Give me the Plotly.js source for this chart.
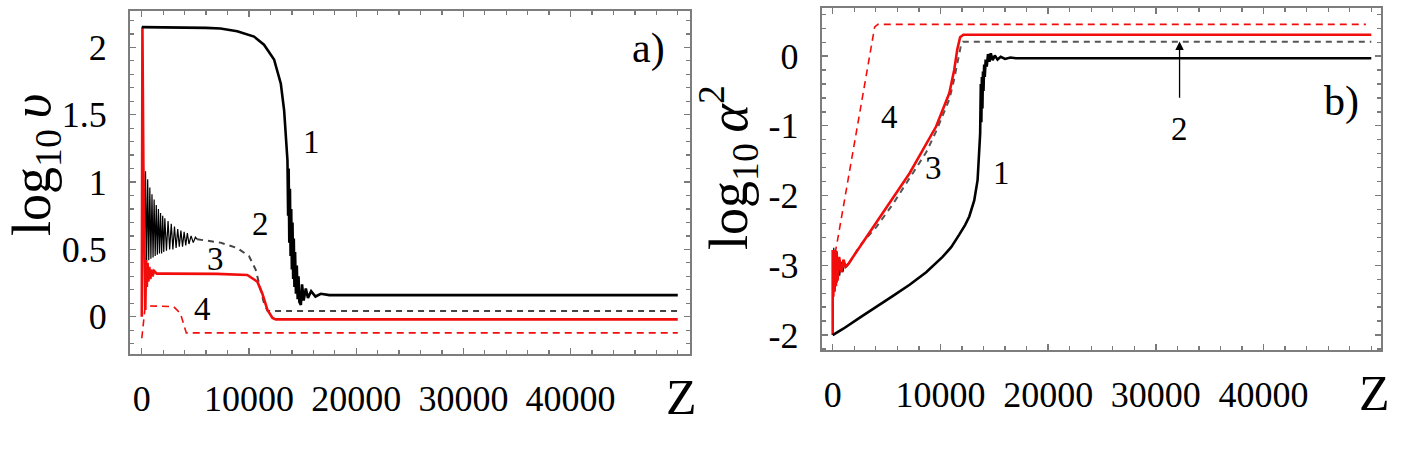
<!DOCTYPE html>
<html><head><meta charset="utf-8">
<script src="https://cdn.plot.ly/plotly-3.0.1.min.js"></script>
<style>html,body{margin:0;padding:0;background:#fff}#chart{width:1419px;height:456px}</style>
</head><body><div id="chart"></div>
<script>
// ---------- Panel a) log10 v vs Z ----------
const a1_z = [0, 500, 2000, 4000, 6000, 7340, 8900, 10470, 11400, 12340, 12970, 13280, 13590, 13650, 13700, 13760, 13820, 13880, 13940, 14000, 14060, 14120, 14180, 14240, 14300, 14380, 14460, 14540, 14620, 14700, 14840, 14950, 15100, 15300, 15500, 15800, 16200, 16700, 17500, 20000, 30000, 40000, 50000];
const a1_v = [2.15, 2.15, 2.15, 2.148, 2.145, 2.14, 2.12, 2.08, 2.02, 1.91, 1.73, 1.53, 1.16, 0.75, 1.10, 0.55, 0.95, 0.45, 0.80, 0.35, 0.70, 0.28, 0.58, 0.22, 0.48, 0.17, 0.38, 0.13, 0.30, 0.11, 0.087, 0.24, 0.12, 0.21, 0.14, 0.19, 0.15, 0.17, 0.16, 0.16, 0.16, 0.16, 0.16];

const a2osc_z = [150, 250, 350, 450, 550, 650, 750, 850, 950, 1050, 1150, 1250, 1350, 1450, 1550, 1650, 1750, 1850, 1950, 2050, 2150, 2300, 2450, 2600, 2750, 2900, 3050, 3200, 3350, 3500, 3650, 3800, 3950, 4100, 4250, 4400, 4600, 4800, 5000, 5160];
const a2osc_v = [1.15, 0.40, 1.08, 0.41, 1.02, 0.42, 0.96, 0.43, 0.91, 0.44, 0.87, 0.45, 0.83, 0.46, 0.80, 0.47, 0.77, 0.47, 0.75, 0.48, 0.73, 0.49, 0.71, 0.50, 0.69, 0.50, 0.67, 0.51, 0.65, 0.52, 0.64, 0.52, 0.63, 0.53, 0.62, 0.54, 0.60, 0.55, 0.59, 0.575];
const a2_z = [5160, 7340, 8900, 10000, 10620, 11090, 11400, 11720, 12000, 20000, 30000, 40000, 50000];
const a2_v = [0.575, 0.55, 0.51, 0.45, 0.35, 0.20, 0.10, 0.045, 0.042, 0.042, 0.042, 0.042, 0.042];

const a3_z = [0, 60, 150, 250, 330, 400, 470, 540, 620, 700, 800, 900, 1000, 1150, 1400, 2000, 4000, 7000, 9840, 10780, 11250, 11720, 12190, 12500, 20000, 30000, 40000, 50000];
const a3_v = [0.0, 2.15, 1.10, 0.50, 0.05, 0.42, 0.22, 0.40, 0.26, 0.37, 0.28, 0.35, 0.30, 0.34, 0.32, 0.32, 0.32, 0.318, 0.31, 0.26, 0.17, 0.05, -0.01, -0.02, -0.02, -0.02, -0.02, -0.02];

const a4_z = [0, 300, 600, 1500, 2970, 3600, 3900, 4150, 50000];
const a4_v = [-0.16, 0.064, 0.08, 0.08, 0.075, 0.025, -0.05, -0.12, -0.12];

// ---------- Panel b) log10 alpha^2 vs Z ----------
const b1_z = [0, 985, 2520, 4060, 5600, 7140, 8680, 10200, 11000, 11750, 12300, 12680, 13140, 13450, 13600, 13690, 13750, 13800, 13850, 13900, 13950, 14000, 14060, 14120, 14200, 14300, 14420, 14550, 14680, 14850, 15050, 15300, 15600, 16000, 16500, 17000, 20000, 30000, 40000, 50000];
const b1_a = [-4.0, -3.91, -3.75, -3.60, -3.44, -3.28, -3.10, -2.88, -2.74, -2.56, -2.42, -2.30, -2.07, -1.78, -1.35, -1.11, -0.40, -0.95, -0.30, -0.75, -0.22, -0.50, -0.12, -0.30, -0.05, -0.15, 0.03, -0.08, 0.04, -0.06, 0.01, -0.05, -0.01, -0.04, -0.02, -0.03, -0.03, -0.03, -0.03, -0.03];

const b2osc_z = [0, 100, 200, 300, 400, 500, 650, 800, 950, 1100, 1300, 1500];
const b2osc_a = [-3.40, -2.75, -3.30, -2.80, -3.25, -2.90, -3.15, -2.95, -3.10, -2.98, -3.02, -2.98];
const b2_z = [1500, 2520, 4060, 5600, 7140, 8680, 9600, 10200, 10830, 11250, 11600, 11900, 12100, 20000, 30000, 40000, 50000];
const b2_a = [-2.98, -2.72, -2.45, -2.12, -1.75, -1.38, -1.08, -0.85, -0.62, -0.35, -0.05, 0.15, 0.206, 0.206, 0.206, 0.206, 0.206];

const b3_z = [0, 0, 60, 120, 180, 240, 300, 370, 450, 600, 800, 1000, 1200, 1450, 4060, 7140, 9600, 10200, 10830, 11280, 11570, 11830, 12130, 20000, 30000, 40000, 50000];
const b3_a = [-4.0, -2.78, -3.45, -2.78, -3.38, -2.78, -3.30, -2.80, -3.22, -2.88, -3.10, -2.92, -3.02, -2.98, -2.38, -1.68, -1.01, -0.77, -0.53, -0.20, 0.10, 0.27, 0.306, 0.306, 0.306, 0.306, 0.306];

const b4_z = [0, 370, 3900, 4200, 49500];
const b4_a = [-3.0, -2.71, 0.42, 0.455, 0.455];

const xTicks = [0, 10000, 20000, 30000, 40000];
const xTickText = ['0', '10000', '20000', '30000', '40000'];
const aTicks = [0, 0.5, 1, 1.5, 2];
const aTickText = ['0', '0.5', '1', '1.5', '2'];
const bTicks = [-4, -3, -2, -1, 0];
const bTickText = ['-2', '-3', '-2', '-1', '0'];

const RED = '#f20d0d';
const serif = 'Liberation Serif';

function tr(x, y, xa, ya, color, width, dash) {
  return {x: x, y: y, xaxis: xa, yaxis: ya, type: 'scatter', mode: 'lines',
    line: {color: color, width: width, dash: dash || 'solid'}, hoverinfo: 'skip', showlegend: false};
}

const data = [
  tr(a2osc_z, a2osc_v, 'x', 'y', '#000', 1.2),
  tr(a2_z, a2_v, 'x', 'y', '#444', 2, '6px,5px'),
  tr(a4_z, a4_v, 'x', 'y', RED, 1.6, '7px,5px'),
  tr(a3_z, a3_v, 'x', 'y', RED, 2.6),
  tr(a1_z, a1_v, 'x', 'y', '#000', 2.6),
  tr(b4_z, b4_a, 'x2', 'y2', RED, 1.6, '7px,5px'),
  tr(b2osc_z, b2osc_a, 'x2', 'y2', '#000', 1.2),
  tr(b2_z, b2_a, 'x2', 'y2', '#555', 2, '6px,5px'),
  tr(b3_z, b3_a, 'x2', 'y2', RED, 2.6),
  tr(b1_z, b1_a, 'x2', 'y2', '#000', 2.6)
];

const minorX = {ticks: 'inside', ticklen: 4, tickcolor: '#7a7a7a', dtick: 2000, tick0: 0};
const axBase = {
  showgrid: false, zeroline: false, showline: true, linecolor: '#7d7d7d', linewidth: 2,
  mirror: 'ticks', ticks: 'inside', ticklen: 6, tickwidth: 1.3, tickcolor: '#7a7a7a',
  tickfont: {family: serif, size: 36, color: '#000'}, tickmode: 'array'
};

function ann(xr, yr, x, y, text, size, extra) {
  return Object.assign({xref: xr, yref: yr, x: x, y: y, text: text, showarrow: false,
    xanchor: 'center', yanchor: 'middle', font: {family: serif, size: size, color: '#000'}}, extra || {});
}

const layout = {
  width: 1419, height: 456,
  margin: {l: 0, r: 0, t: 0, b: 0},
  paper_bgcolor: '#fff', plot_bgcolor: '#fff',
  showlegend: false,
  xaxis: Object.assign({}, axBase, {domain: [130/1419, 690/1419], anchor: 'y', range: [-1100, 51140],
    tickvals: xTicks, ticktext: xTickText, ticklabelstandoff: 12, minor: minorX}),
  yaxis: Object.assign({}, axBase, {domain: [1-354/456, 1-11/456], anchor: 'x', range: [-0.277, 2.27],
    tickvals: aTicks, ticktext: aTickText, ticklabelstandoff: 14,
    minor: {ticks: 'inside', ticklen: 4, tickcolor: '#7a7a7a', dtick: 0.1, tick0: 0}}),
  xaxis2: Object.assign({}, axBase, {domain: [821.7/1419, 1381/1419], anchor: 'y2', range: [-1020, 50900],
    tickvals: xTicks, ticktext: xTickText, ticklabelstandoff: 12, minor: minorX}),
  yaxis2: Object.assign({}, axBase, {domain: [1-350/456, 1-8/456], anchor: 'x2', range: [-4.215, 0.69],
    tickvals: bTicks, ticktext: bTickText, ticklabelstandoff: 14,
    minor: {ticks: 'inside', ticklen: 4, tickcolor: '#7a7a7a', dtick: 0.2, tick0: 0}}),
  annotations: [
    ann('paper', 'paper', 35/1419, 1-165/456, 'log<sub>10</sub>\u2009<i>υ</i>', 54, {textangle: -90}),
    ann('paper', 'paper', 728/1419, 1-168/456, 'log<sub>10</sub>\u2009<i>α</i><sup>2</sup>', 54, {textangle: -90}),
    ann('paper', 'paper', 681/1419, 1-397/456, 'Z', 50),
    ann('paper', 'paper', 1374/1419, 1-393/456, 'Z', 50),
    ann('x', 'y', 47250, 1.99, 'a)', 42),
    ann('x2', 'y2', 47200, -0.65, 'b)', 42),
    ann('x', 'y', 15860, 1.30, '1', 33),
    ann('x', 'y', 11040, 0.69, '2', 33),
    ann('x', 'y', 6900, 0.426, '3', 33),
    ann('x', 'y', 5650, 0.055, '4', 33),
    ann('x2', 'y2', 5230, -0.88, '4', 33),
    ann('x2', 'y2', 9400, -1.60, '3', 33),
    ann('x2', 'y2', 15690, -1.68, '1', 33),
    ann('x2', 'y2', 32200, -1.05, '2', 33),
    {xref: 'x2', yref: 'y2', x: 32200, y: 0.21, ax: 32200, ay: -0.62, axref: 'x2', ayref: 'y2', text: '',
      showarrow: true, arrowhead: 2, arrowsize: 1.3, arrowwidth: 1.3, arrowcolor: '#000', standoff: 0}
  ]
};

Plotly.newPlot('chart', data, layout, {staticPlot: true, displayModeBar: false});
</script>
</body></html>
